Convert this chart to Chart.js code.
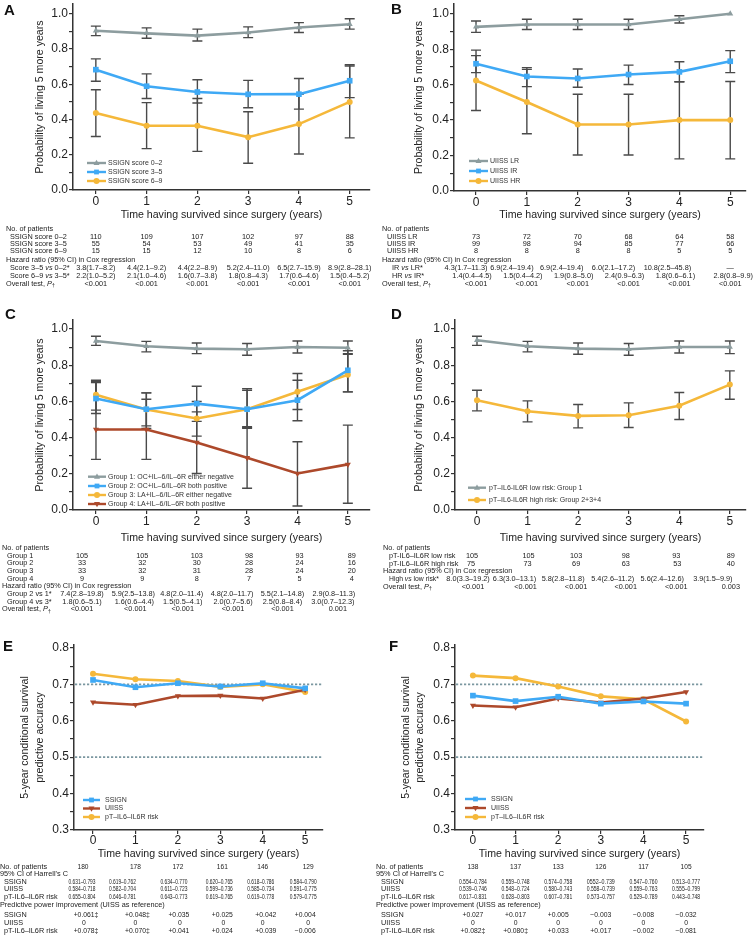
<!DOCTYPE html>
<html><head><meta charset="utf-8">
<script src="https://cdn.jsdelivr.net/npm/chart.js@4.4.1/dist/chart.umd.min.js"></script>
<style>
html,body{margin:0;padding:0;background:#fff;}
#wrap{position:relative;width:753px;height:936px;overflow:hidden;background:#fff;}
canvas{position:absolute;left:0;top:0;}
.lbl{position:absolute;font:bold 15px "Liberation Sans",Arial,sans-serif;color:#111;line-height:15px;}
</style></head><body>
<div id="wrap">
<canvas id="cA" width="753" height="936"></canvas>
<canvas id="cB" width="753" height="936"></canvas>
<canvas id="cC" width="753" height="936"></canvas>
<canvas id="cD" width="753" height="936"></canvas>
<canvas id="cE" width="753" height="936"></canvas>
<canvas id="cF" width="753" height="936"></canvas>
<div class="lbl" style="left:4px;top:2px">A</div>
<div class="lbl" style="left:391px;top:1px">B</div>
<div class="lbl" style="left:5px;top:306px">C</div>
<div class="lbl" style="left:391px;top:306px">D</div>
<div class="lbl" style="left:3px;top:638px">E</div>
<div class="lbl" style="left:389px;top:638px">F</div>
</div>
<script>
// ---------- axis ticks ----------
const years = [0, 1, 2, 3, 4, 5];
const yearLabels = ['0', '1', '2', '3', '4', '5'];
const probTicks = [0, 0.1, 0.2, 0.3, 0.4, 0.5, 0.6, 0.7, 0.8, 0.9, 1.0];
const probTickLabels = ['0.0', '', '0.2', '', '0.4', '', '0.6', '', '0.8', '', '1.0'];
const accTicks = [0.3, 0.35, 0.4, 0.45, 0.5, 0.55, 0.6, 0.65, 0.7, 0.75, 0.8];
const accTickLabels = ['0.3', '', '0.4', '', '0.5', '', '0.6', '', '0.7', '', '0.8'];
const accRefLines = [0.7, 0.5];

// ---------- Panel A ----------
const aLow = [0.904, 0.889, 0.876, 0.894, 0.922, 0.941];
const aLowLo = [0.876, 0.861, 0.846, 0.865, 0.894, 0.913];
const aLowHi = [0.930, 0.920, 0.913, 0.926, 0.950, 0.972];
const aMid = [0.683, 0.589, 0.556, 0.543, 0.544, 0.620];
const aMidLo = [0.617, 0.519, 0.494, 0.467, 0.459, 0.524];
const aMidHi = [0.744, 0.659, 0.626, 0.622, 0.633, 0.711];
const aHigh = [0.437, 0.365, 0.365, 0.300, 0.374, 0.500];
const aHighLo = [0.304, 0.235, 0.219, 0.152, 0.204, 0.296];
const aHighHi = [0.569, 0.496, 0.519, 0.444, 0.545, 0.704];
const aNoLow = ['110', '109', '107', '102', '97', '88'];
const aNoMid = ['55', '54', '53', '49', '41', '35'];
const aNoHigh = ['15', '15', '12', '10', '8', '6'];
const aHR35 = ['3.8(1.7–8.2)', '4.4(2.1–9.2)', '4.4(2.2–8.9)', '5.2(2.4–11.0)', '6.5(2.7–15.9)', '8.9(2.8–28.1)'];
const aHR69 = ['2.2(1.0–5.2)', '2.1(1.0–4.6)', '1.6(0.7–3.8)', '1.8(0.8–4.3)', '1.7(0.6–4.6)', '1.5(0.4–5.2)'];
const aP = ['<0.001', '<0.001', '<0.001', '<0.001', '<0.001', '<0.001'];

// ---------- Panel B ----------
const bLR = [0.926, 0.939, 0.939, 0.939, 0.969, 1.0];
const bLRLo = [0.895, 0.911, 0.911, 0.911, 0.948, null];
const bLRHi = [0.959, 0.969, 0.969, 0.969, 0.989, null];
const bIR = [0.718, 0.646, 0.635, 0.657, 0.672, 0.732];
const bIRLo = [0.668, 0.589, 0.585, 0.601, 0.616, 0.668];
const bIRHi = [0.795, 0.696, 0.688, 0.710, 0.729, 0.792];
const bHR = [0.623, 0.502, 0.375, 0.375, 0.400, 0.400];
const bHRLo = [0.454, 0.323, 0.203, 0.203, 0.181, 0.181];
const bHRHi = [0.764, 0.686, 0.546, 0.546, 0.616, 0.618];
const bNoLR = ['73', '72', '70', '68', '64', '58'];
const bNoIR = ['99', '98', '94', '85', '77', '66'];
const bNoHR = ['8', '8', '8', '8', '5', '5'];
const bHRir = ['4.3(1.7–11.3)', '6.9(2.4–19.4)', '6.9(2.4–19.4)', '6.0(2.1–17.2)', '10.8(2.5–45.8)', '—'];
const bHRhr = ['1.4(0.4–4.5)', '1.5(0.4–4.2)', '1.9(0.8–5.0)', '2.4(0.9–6.3)', '1.8(0.6–6.1)', '2.8(0.8–9.9)'];
const bP = ['<0.001', '<0.001', '<0.001', '<0.001', '<0.001', '<0.001'];

// ---------- Panel C ----------
const cG1 = [0.934, 0.905, 0.892, 0.888, 0.901, 0.897];
const cG1Lo = [0.910, 0.874, 0.864, 0.855, 0.868, 0.864];
const cG1Hi = [0.960, 0.932, 0.923, 0.920, 0.934, 0.934];
const cG2 = [0.616, 0.557, 0.588, 0.557, 0.607, 0.772];
const cG2Lo = [0.533, 0.465, 0.490, 0.460, 0.493, 0.653];
const cG2Hi = [0.704, 0.647, 0.684, 0.662, 0.717, 0.880];
const cG3 = [0.637, 0.555, 0.506, 0.557, 0.653, 0.748];
const cG3Lo = [0.552, 0.450, 0.408, 0.451, 0.555, 0.653];
const cG3Hi = [0.717, 0.612, 0.600, 0.671, 0.754, 0.860];
const cG4 = [0.445, 0.445, 0.373, 0.289, 0.202, 0.252];
const cG4Lo = [0.280, 0.280, 0.202, 0.120, 0.022, 0.037];
const cG4Hi = [0.710, 0.647, 0.542, 0.455, 0.377, 0.469];
const cNo1 = ['105', '105', '103', '98', '93', '89'];
const cNo2 = ['33', '32', '30', '28', '24', '16'];
const cNo3 = ['33', '32', '31', '28', '24', '20'];
const cNo4 = ['9', '9', '8', '7', '5', '4'];
const cHR21 = ['7.4(2.8–19.8)', '5.9(2.5–13.8)', '4.8(2.0–11.4)', '4.8(2.0–11.7)', '5.5(2.1–14.8)', '2.9(0.8–11.3)'];
const cHR43 = ['1.8(0.6–5.1)', '1.6(0.6–4.4)', '1.5(0.5–4.1)', '2.0(0.7–5.6)', '2.5(0.8–8.4)', '3.0(0.7–12.3)'];
const cP = ['<0.001', '<0.001', '<0.001', '<0.001', '<0.001', '0.001'];

// ---------- Panel D ----------
const dLow = [0.938, 0.905, 0.892, 0.888, 0.901, 0.901];
const dLowLo = [0.910, 0.874, 0.861, 0.855, 0.868, 0.864];
const dLowHi = [0.960, 0.932, 0.923, 0.920, 0.934, 0.934];
const dHigh = [0.607, 0.546, 0.520, 0.524, 0.576, 0.693];
const dHighLo = [0.548, 0.487, 0.454, 0.456, 0.500, 0.612];
const dHighHi = [0.662, 0.603, 0.583, 0.592, 0.649, 0.769];
const dNoLow = ['105', '105', '103', '98', '93', '89'];
const dNoHigh = ['75', '73', '69', '63', '53', '40'];
const dHR = ['8.0(3.3–19.2)', '6.3(3.0–13.1)', '5.8(2.8–11.8)', '5.4(2.6–11.2)', '5.6(2.4–12.6)', '3.9(1.5–9.9)'];
const dP = ['<0.001', '<0.001', '<0.001', '<0.001', '<0.001', '0.003'];

// ---------- Panel E ----------
const eSSIGN = [0.712, 0.692, 0.703, 0.694, 0.703, 0.689];
const eUISS = [0.651, 0.644, 0.668, 0.669, 0.661, 0.685];
const ePT = [0.729, 0.714, 0.709, 0.693, 0.700, 0.679];
const eNo = ['180', '178', '172', '161', '146', '129'];
const eCISSIGN = ['0.631–0.793', '0.619–0.762', '0.634–0.770', '0.620–0.765', '0.618–0.786', '0.584–0.790'];
const eCIUISS = ['0.584–0.718', '0.582–0.704', '0.611–0.723', '0.599–0.736', '0.585–0.734', '0.591–0.775'];
const eCIPT = ['0.655–0.804', '0.646–0.781', '0.643–0.773', '0.619–0.765', '0.619–0.778', '0.579–0.775'];
const eImpSSIGN = ['+0.061‡', '+0.048‡', '+0.035', '+0.025', '+0.042', '+0.004'];
const eImpUISS = ['0', '0', '0', '0', '0', '0'];
const eImpPT = ['+0.078‡', '+0.070‡', '+0.041', '+0.024', '+0.039', '−0.006'];

// ---------- Panel F ----------
const fSSIGN = [0.669, 0.654, 0.666, 0.647, 0.653, 0.647];
const fUISS = [0.642, 0.637, 0.661, 0.650, 0.661, 0.679];
const fPT = [0.724, 0.717, 0.694, 0.667, 0.659, 0.598];
const fNo = ['138', '137', '133', '126', '117', '105'];
const fCISSIGN = ['0.554–0.784', '0.559–0.748', '0.574–0.758', '0552–0.739', '0.547–0.760', '0.513–0.777'];
const fCIUISS = ['0.539–0.746', '0.548–0.724', '0.580–0.743', '0.558–0.739', '0.559–0.763', '0.555–0.799'];
const fCIPT = ['0.617–0.831', '0.628–0.803', '0.607–0.781', '0.573–0.757', '0.529–0.789', '0.443–0.748'];
const fImpSSIGN = ['+0.027', '+0.017', '+0.005', '−0.003', '−0.008', '−0.032'];
const fImpUISS = ['0', '0', '0', '0', '0', '0'];
const fImpPT = ['+0.082‡', '+0.080‡', '+0.033', '+0.017', '−0.002', '−0.081'];

// ---------- style ----------
const FONT = '"Liberation Sans", Arial, Helvetica, sans-serif';
const GRAY = '#8d9d9f', BLUE = '#3fa9f5', YELLOW = '#f5b83a', RED = '#ad492b';
const INK = '#222';
const XTITLE = 'Time having survived since surgery (years)';
const PTITLE = 'Probability of living 5 more years';
const ATITLE = ['5-year conditional survival', 'predictive accuracy'];
const TFS = 7.3;

function drawMarker(ctx, style, rot, x, y, r, color) {
  ctx.save(); ctx.fillStyle = color; ctx.translate(x, y); ctx.rotate((rot || 0) * Math.PI / 180);
  ctx.beginPath();
  if (style === 'circle') ctx.arc(0, 0, r, 0, Math.PI * 2);
  else if (style === 'rect') ctx.rect(-r * 0.75, -r * 0.75, r * 1.5, r * 1.5);
  else { ctx.moveTo(0, -r * 1.1); ctx.lineTo(r, r * 0.7); ctx.lineTo(-r, r * 0.7); ctx.closePath(); }
  ctx.fill(); ctx.restore();
}

function drawRich(ctx, str, x, y, size) {
  const parts = str.split(/(<i>.*?<\/i>|<sub>.*?<\/sub>)/).filter(s => s);
  let cx = x;
  ctx.textAlign = 'left'; ctx.textBaseline = 'middle';
  parts.forEach(p => {
    let t = p, f = `${size}px ${FONT}`, dy = 0;
    if (p.startsWith('<i>')) { t = p.slice(3, -4); f = `italic ${size}px ${FONT}`; }
    else if (p.startsWith('<sub>')) { t = p.slice(5, -6); f = `${size * 0.8}px ${FONT}`; dy = size * 0.3; }
    ctx.font = f; ctx.fillText(t, cx, y + dy); cx += ctx.measureText(t).width;
  });
}

function makeDeco(g) {
  return {
    id: 'deco',
    beforeDatasetsDraw(chart) {
      const ctx = chart.ctx, xs = chart.scales.x, ys = chart.scales.y, ca = chart.chartArea;
      ctx.save();
      (g.refLines || []).forEach(v => {
        const py = ys.getPixelForValue(v);
        ctx.strokeStyle = '#7b97a0'; ctx.lineWidth = 1.7; ctx.setLineDash([2.2, 1.8]);
        ctx.beginPath(); ctx.moveTo(ca.left + 1, py); ctx.lineTo(ca.right, py); ctx.stroke();
      });
      ctx.setLineDash([]);
      ctx.strokeStyle = '#4a4a4a'; ctx.lineWidth = 1.4;
      g.series.forEach(s => {
        if (!s.lo) return;
        s.lo.forEach((lo, i) => {
          const hi = s.hi[i];
          if (lo == null || hi == null) return;
          const px = xs.getPixelForValue(years[i]);
          const p1 = ys.getPixelForValue(lo), p2 = ys.getPixelForValue(hi);
          ctx.beginPath();
          ctx.moveTo(px, p1); ctx.lineTo(px, p2);
          ctx.moveTo(px - 5, p1); ctx.lineTo(px + 5, p1);
          ctx.moveTo(px - 5, p2); ctx.lineTo(px + 5, p2);
          ctx.stroke();
        });
      });
      ctx.restore();
    },
    afterDraw(chart) {
      const ctx = chart.ctx, xs = chart.scales.x;
      ctx.save();
      const L = g.legend;
      g.series.forEach((s, k) => {
        const y = L.ys[k];
        ctx.strokeStyle = s.color; ctx.lineWidth = 2.4;
        ctx.beginPath(); ctx.moveTo(L.x, y); ctx.lineTo(L.x + L.len, y); ctx.stroke();
        drawMarker(ctx, s.style, s.rot, L.x + L.len / 2, y, s.style === 'rect' ? 3.2 : 3, s.color);
        ctx.fillStyle = '#333'; ctx.font = `7px ${FONT}`; ctx.textAlign = 'left'; ctx.textBaseline = 'middle';
        ctx.fillText(s.label, L.tx, y);
      });
      ctx.fillStyle = INK;
      g.table.forEach(r => {
        drawRich(ctx, r.label, r.x, r.y, r.fs || TFS);
        if (r.vals) {
          ctx.font = `${r.vfs || TFS}px ${FONT}`; ctx.textAlign = 'center'; ctx.textBaseline = 'middle';
          r.vals.forEach((v, i) => {
            const px = xs.getPixelForValue(years[i]) + (r.shift ? r.shift[i] : 0);
            if (r.maxW) ctx.fillText(v, px, r.y, r.maxW); else ctx.fillText(v, px, r.y);
          });
        }
      });
      ctx.restore();
    }
  };
}

function makeChart(id, g) {
  const W = 753, H = 936;
  const datasets = g.series.map(s => ({
    label: s.label,
    data: years.map((x, i) => ({ x: x, y: s.values[i] })),
    borderColor: s.color, backgroundColor: s.color,
    borderWidth: 2.6, pointStyle: s.style, pointRotation: s.rot || 0,
    pointRadius: s.style === 'rect' ? 4 : (s.style === 'circle' ? 3 : 3.5),
    pointBorderWidth: 0, pointBackgroundColor: s.color, pointBorderColor: s.color,
    tension: 0, fill: false
  }));
  const tickFont = { family: FONT, size: 12 };
  return new Chart(document.getElementById(id), {
    type: 'line',
    data: { datasets },
    options: {
      responsive: false, animation: false, devicePixelRatio: 1, events: [],
      layout: { padding: { left: 0, top: g.plot.t, right: W - g.plot.r, bottom: H - g.plot.b - g.xAxisH } },
      plugins: { legend: { display: false }, tooltip: { enabled: false } },
      scales: {
        x: {
          type: 'linear', min: g.xmin, max: g.xmax,
          afterBuildTicks(s) { s.ticks = years.map(v => ({ value: v })); },
          afterFit(s) { s.height = g.xAxisH; s.paddingLeft = 0; s.paddingRight = 0; },
          ticks: { callback: (v, i) => yearLabels[i], font: tickFont, color: INK, padding: g.xTickPad, maxRotation: 0, autoSkip: false },
          grid: { drawOnChartArea: false, drawTicks: true, tickLength: 4, color: '#333', lineWidth: 1.2 },
          border: { color: '#333', width: 1.5 },
          title: { display: true, text: XTITLE, font: { family: FONT, size: 10.6 }, color: INK, padding: 0 }
        },
        y: {
          type: 'linear', min: g.ymin, max: g.ymax,
          afterBuildTicks(s) { s.ticks = g.yTicks.map(v => ({ value: v })); },
          afterFit(s) { s.width = g.plot.l; s.paddingTop = 0; s.paddingBottom = 0; },
          ticks: { callback: (v, i) => g.yTickLabels[i], font: tickFont, color: INK, padding: 1, autoSkip: false },
          grid: { drawOnChartArea: false, drawTicks: true, tickLength: 4, color: '#333', lineWidth: 1.2 },
          border: { color: '#333', width: 1.5 },
          title: { display: true, text: g.ytitle, font: { family: FONT, size: 10.6, lineHeight: g.ytitleLH || 1.2 }, color: INK, padding: { top: g.ytitlePad, bottom: 0 } }
        }
      }
    },
    plugins: [makeDeco(g)]
  });
}

const P_LABEL = 'Overall test, <i>P</i><sub>†</sub>';
const HR_LABEL = 'Hazard ratio (95% CI) in Cox regression';

// ---------- A ----------
makeChart('cA', {
  plot: { l: 73, r: 370, t: 0, b: 190 }, xmin: -0.45, xmax: 5.4, ymin: 0, ymax: 1.0556,
  xAxisH: 31.3, xTickPad: 0.7, yTicks: probTicks, yTickLabels: probTickLabels, ytitle: PTITLE, ytitlePad: 33.7,
  series: [
    { label: 'SSIGN score 0–2', values: aLow, lo: aLowLo, hi: aLowHi, color: GRAY, style: 'triangle' },
    { label: 'SSIGN score 3–5', values: aMid, lo: aMidLo, hi: aMidHi, color: BLUE, style: 'rect' },
    { label: 'SSIGN score 6–9', values: aHigh, lo: aHighLo, hi: aHighHi, color: YELLOW, style: 'circle' }
  ],
  legend: { x: 87, len: 19, tx: 108, ys: [163, 172, 181] },
  table: [
    { y: 229, x: 6, label: 'No. of patients' },
    { y: 236.7, x: 10, label: 'SSIGN score 0–2', vals: aNoLow },
    { y: 244, x: 10, label: 'SSIGN score 3–5', vals: aNoMid },
    { y: 251.3, x: 10, label: 'SSIGN score 6–9', vals: aNoHigh },
    { y: 260, x: 6, label: HR_LABEL },
    { y: 268.3, x: 10, label: 'Score 3–5 <i>vs</i> 0–2*', vals: aHR35 },
    { y: 276, x: 10, label: 'Score 6–9 <i>vs</i> 3–5*', vals: aHR69 },
    { y: 283.5, x: 6, label: P_LABEL, vals: aP }
  ]
});

// ---------- B ----------
makeChart('cB', {
  plot: { l: 454, r: 746, t: 0, b: 191 }, xmin: -0.433, xmax: 5.31, ymin: 0, ymax: 1.055,
  xAxisH: 30.3, xTickPad: 0.3, yTicks: probTicks, yTickLabels: probTickLabels, ytitle: PTITLE, ytitlePad: 412.4,
  series: [
    { label: 'UIISS LR', values: bLR, lo: bLRLo, hi: bLRHi, color: GRAY, style: 'triangle' },
    { label: 'UIISS IR', values: bIR, lo: bIRLo, hi: bIRHi, color: BLUE, style: 'rect' },
    { label: 'UIISS HR', values: bHR, lo: bHRLo, hi: bHRHi, color: YELLOW, style: 'circle' }
  ],
  legend: { x: 469, len: 19, tx: 490, ys: [161, 171, 181] },
  table: [
    { y: 229, x: 382, label: 'No. of patients' },
    { y: 236.7, x: 387, label: 'UIISS LR', vals: bNoLR },
    { y: 244, x: 387, label: 'UIISS IR', vals: bNoIR },
    { y: 251.3, x: 387, label: 'UIISS HR', vals: bNoHR },
    { y: 260, x: 382, label: HR_LABEL },
    { y: 268.3, x: 392, label: 'IR <i>vs</i> LR*', vals: bHRir, shift: [-10, -15, -16, -15, -12, 0] },
    { y: 276, x: 392, label: 'HR <i>vs</i> IR*', vals: bHRhr, shift: [-4, -4, -4, -4, -4, 3] },
    { y: 283.5, x: 382, label: P_LABEL, vals: bP }
  ]
});

// ---------- C ----------
makeChart('cC', {
  plot: { l: 73, r: 370, t: 320, b: 510 }, xmin: -0.456, xmax: 5.44, ymin: 0, ymax: 1.05,
  xAxisH: 34.6, xTickPad: 0.5, yTicks: probTicks, yTickLabels: probTickLabels, ytitle: PTITLE, ytitlePad: 33.7,
  series: [
    { label: 'Group 1: OC+IL–6/IL–6R either negative', values: cG1, lo: cG1Lo, hi: cG1Hi, color: GRAY, style: 'triangle' },
    { label: 'Group 2: OC+IL–6/IL–6R both positive', values: cG2, lo: cG2Lo, hi: cG2Hi, color: BLUE, style: 'rect' },
    { label: 'Group 3: LA+IL–6/IL–6R either negative', values: cG3, lo: cG3Lo, hi: cG3Hi, color: YELLOW, style: 'circle' },
    { label: 'Group 4: LA+IL–6/IL–6R both positive', values: cG4, lo: cG4Lo, hi: cG4Hi, color: RED, style: 'triangle', rot: 180 }
  ],
  legend: { x: 88, len: 18, tx: 108, ys: [476.7, 486, 495, 504] },
  table: [
    { y: 547.5, x: 2, label: 'No. of patients' },
    { y: 555.7, x: 7, label: 'Group 1', vals: cNo1, shift: [-14, -4, 0, 2, 2, 4] },
    { y: 563.3, x: 7, label: 'Group 2', vals: cNo2, shift: [-14, -4, 0, 2, 2, 4] },
    { y: 571, x: 7, label: 'Group 3', vals: cNo3, shift: [-14, -4, 0, 2, 2, 4] },
    { y: 578.7, x: 7, label: 'Group 4', vals: cNo4, shift: [-14, -4, 0, 2, 2, 4] },
    { y: 586.3, x: 2, label: HR_LABEL },
    { y: 594, x: 7, label: 'Group 2 vs 1*', vals: cHR21, shift: [-14, -13, -15, -15, -15, -14] },
    { y: 601.7, x: 7, label: 'Group 4 vs 3*', vals: cHR43, shift: [-14, -12, -14, -14, -15, -15] },
    { y: 609.3, x: 2, label: P_LABEL, vals: cP, shift: [-14, -11, -14, -14, -15, -10] }
  ]
});

// ---------- D ----------
makeChart('cD', {
  plot: { l: 455, r: 746, t: 320, b: 510 }, xmin: -0.435, xmax: 5.32, ymin: 0, ymax: 1.05,
  xAxisH: 34.6, xTickPad: 0.5, yTicks: probTicks, yTickLabels: probTickLabels, ytitle: PTITLE, ytitlePad: 412.4,
  series: [
    { label: 'pT–IL6-IL6R low risk: Group 1', values: dLow, lo: dLowLo, hi: dLowHi, color: GRAY, style: 'triangle' },
    { label: 'pT–IL6-IL6R high risk: Group 2+3+4', values: dHigh, lo: dHighLo, hi: dHighHi, color: YELLOW, style: 'circle' }
  ],
  legend: { x: 468, len: 18, tx: 489, ys: [487.7, 500] },
  table: [
    { y: 548, x: 383, label: 'No. of patients' },
    { y: 556, x: 389, label: 'pT-IL6–IL6R low risk', vals: dNoLow, shift: [-5, 1, -2, -3, -3, 1] },
    { y: 563.5, x: 389, label: 'pT-IL6–IL6R high risk', vals: dNoHigh, shift: [-6, 0, -2, -3, -2, 1] },
    { y: 571, x: 383, label: HR_LABEL },
    { y: 579, x: 389, label: 'High <i>vs</i> low risk*', fs: 6.8, vals: dHR, shift: [-9, -13, -15, -16, -17, -17] },
    { y: 586.7, x: 383, label: P_LABEL, vals: dP, shift: [-4, -2, -2, -3, -3, 1] }
  ]
});

// ---------- E ----------
makeChart('cE', {
  plot: { l: 74, r: 323, t: 645, b: 830 }, xmin: -0.448, xmax: 5.42, ymin: 0.3, ymax: 0.808,
  xAxisH: 30.3, xTickPad: -0.8, yTicks: accTicks, yTickLabels: accTickLabels, ytitle: ATITLE, ytitleLH: 1.4, ytitlePad: 17.7,
  refLines: accRefLines,
  series: [
    { label: 'SSIGN', values: eSSIGN, color: BLUE, style: 'rect' },
    { label: 'UIISS', values: eUISS, color: RED, style: 'triangle', rot: 180 },
    { label: 'pT–IL6–IL6R risk', values: ePT, color: YELLOW, style: 'circle' }
  ],
  legend: { x: 83, len: 17, tx: 105, ys: [800, 808.5, 817] },
  table: [
    { y: 866.7, x: 0, label: 'No. of patients', vals: eNo, vfs: 6.6, shift: [-10, 0, 0, 2, 0, 3] },
    { y: 874, x: 0, label: "95% CI of Harrell's C" },
    { y: 881.7, x: 4, label: 'SSIGN', vals: eCISSIGN, vfs: 6.6, maxW: 27, shift: [-11, -13, -4, -1, -2, -2] },
    { y: 889, x: 4, label: 'UIISS', vals: eCIUISS, vfs: 6.6, maxW: 27, shift: [-11, -13, -4, -1, -2, -2] },
    { y: 896.7, x: 4, label: 'pT-IL6–IL6R risk', vals: eCIPT, vfs: 6.6, maxW: 27, shift: [-11, -13, -4, -1, -2, -2] },
    { y: 905, x: 0, label: 'Predictive power improvement (UISS as reference)' },
    { y: 915, x: 4, label: 'SSIGN', vals: eImpSSIGN, vfs: 6.8, shift: [-7, 2, 1, 2, 3, 0] },
    { y: 923, x: 4, label: 'UIISS', vals: eImpUISS, vfs: 6.8, shift: [-9, 0, 2, 3, 0, 3] },
    { y: 931, x: 4, label: 'pT-IL6–IL6R risk', vals: eImpPT, vfs: 6.8, shift: [-7, 2, 1, 2, 3, 0] }
  ]
});

// ---------- F ----------
makeChart('cF', {
  plot: { l: 455, r: 704, t: 645, b: 830 }, xmin: -0.42, xmax: 5.42, ymin: 0.3, ymax: 0.808,
  xAxisH: 30.3, xTickPad: -0.8, yTicks: accTicks, yTickLabels: accTickLabels, ytitle: ATITLE, ytitleLH: 1.4, ytitlePad: 398.2,
  refLines: accRefLines,
  series: [
    { label: 'SSIGN', values: fSSIGN, color: BLUE, style: 'rect' },
    { label: 'UIISS', values: fUISS, color: RED, style: 'triangle', rot: 180 },
    { label: 'pT–IL6–IL6R risk', values: fPT, color: YELLOW, style: 'circle' }
  ],
  legend: { x: 465, len: 21, tx: 491, ys: [799, 808, 817] },
  table: [
    { y: 866.7, x: 376, label: 'No. of patients', vals: fNo, vfs: 6.6 },
    { y: 874, x: 376, label: "95% CI of Harrell's C" },
    { y: 881.7, x: 381, label: 'SSIGN', vals: fCISSIGN, vfs: 6.6, maxW: 28 },
    { y: 889, x: 381, label: 'UIISS', vals: fCIUISS, vfs: 6.6, maxW: 28 },
    { y: 896.7, x: 381, label: 'pT-IL6–IL6R risk', vals: fCIPT, vfs: 6.6, maxW: 28 },
    { y: 905, x: 376, label: 'Predictive power improvement (UISS as reference)' },
    { y: 915, x: 381, label: 'SSIGN', vals: fImpSSIGN, vfs: 6.8 },
    { y: 923, x: 381, label: 'UIISS', vals: fImpUISS, vfs: 6.8 },
    { y: 931, x: 381, label: 'pT-IL6–IL6R risk', vals: fImpPT, vfs: 6.8 }
  ]
});
</script>
</body></html>
